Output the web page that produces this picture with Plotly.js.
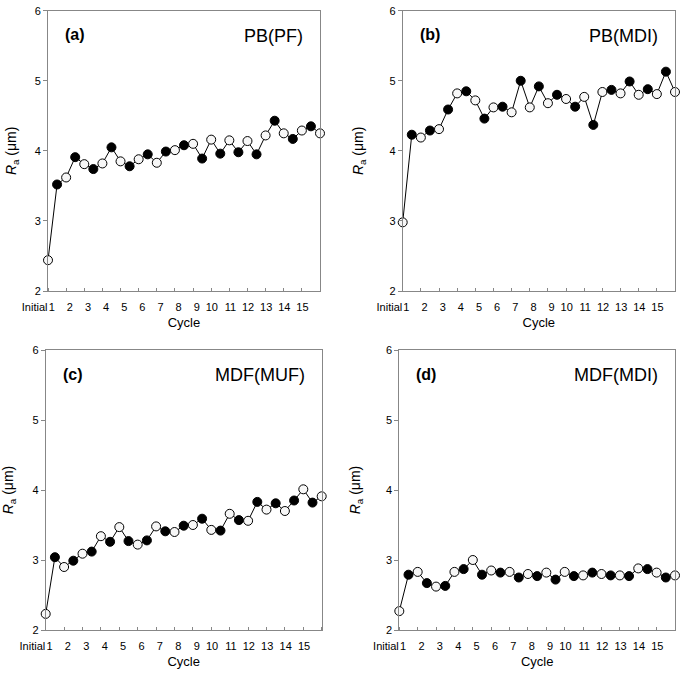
<!DOCTYPE html>
<html>
<head>
<meta charset="utf-8">
<script src="https://cdn.plot.ly/plotly-3.0.1.min.js"></script>
<style>html,body{margin:0;padding:0;background:#fff;}#chart{width:685px;height:674px;}</style>
</head>
<body>
<div id="chart"></div>
<script>
// Measurement sequence: Initial, then each cycle has two measurements (filled, open)
const tickLabels = ['Initial','1','2','3','4','5','6','7','8','9','10','11','12','13','14','15'];
const panelLetters = ['(a)','(b)','(c)','(d)'];
const panelNames = ['PB(PF)','PB(MDI)','MDF(MUF)','MDF(MDI)'];

const raPB_PF  = [2.44,3.52,3.62,3.91,3.81,3.74,3.82,4.05,3.85,3.78,3.88,3.95,3.83,3.99,4.01,4.08,4.10,3.89,4.16,3.96,4.15,3.98,4.14,3.95,4.22,4.43,4.25,4.17,4.29,4.35,4.25];
const raPB_MDI = [2.98,4.23,4.19,4.29,4.31,4.59,4.82,4.85,4.72,4.46,4.62,4.63,4.55,5.00,4.62,4.92,4.68,4.80,4.74,4.63,4.77,4.37,4.84,4.87,4.82,4.99,4.80,4.88,4.81,5.13,4.84];
const raMDF_MUF= [2.23,3.04,2.90,2.99,3.09,3.12,3.34,3.26,3.47,3.27,3.22,3.28,3.48,3.41,3.40,3.49,3.50,3.59,3.43,3.42,3.66,3.57,3.56,3.83,3.72,3.81,3.70,3.85,4.01,3.82,3.91];
const raMDF_MDI= [2.27,2.79,2.83,2.67,2.62,2.63,2.83,2.87,3.00,2.79,2.85,2.82,2.83,2.75,2.80,2.77,2.82,2.72,2.83,2.77,2.78,2.82,2.80,2.78,2.78,2.77,2.88,2.87,2.82,2.75,2.78];

const series = [raPB_PF, raPB_MDI, raMDF_MUF, raMDF_MDI];

const W = 685, H = 674;
// plot rectangles in px: [left, right, top, bottom]
const rects = [[48,320,10.7,291],[402.7,675,10.7,291],[45.7,321.7,350,630],[399.3,675,350,630]];
const yTitleStandoff = [14, 22, 16, 22];

const FONT = 'Liberation Sans, Arial, sans-serif';
const AX = '#878787';

const traces = [];
const layout = {
  width: W, height: H,
  margin: {l:0,r:0,t:0,b:0},
  paper_bgcolor: '#fff', plot_bgcolor: '#fff',
  showlegend: false,
  font: {family: FONT, color: '#000', size: 11},
  annotations: []
};

series.forEach((vals, p) => {
  const n = p + 1;
  const xs = vals.map((_, i) => i / 2);
  const fills = vals.map((_, i) => (i % 2 === 1) ? '#000000' : '#f7f7f7');
  traces.push({
    x: xs, y: vals, xaxis: 'x' + n, yaxis: 'y' + n,
    type: 'scatter', mode: 'lines+markers',
    line: {color: '#000', width: 1},
    marker: {size: 9, color: fills, line: {color: '#000', width: 1}},
    cliponaxis: false, hoverinfo: 'skip'
  });
  const r = rects[p];
  const labelPos = tickLabels.map((_, i) => i === 0 ? 0 : i - 0.6);
  layout['xaxis' + n] = {
    domain: [r[0] / W, r[1] / W],
    anchor: 'y' + n,
    range: [0, 15],
    tickmode: 'array', tickvals: labelPos, ticktext: tickLabels,
    ticklabelposition: 'outside left', tickangle: 0, ticklabelstandoff: 6,
    ticks: '', showgrid: false, zeroline: false,
    showline: true, mirror: true, linecolor: AX, linewidth: 1,
    tickfont: {family: FONT, size: 11, color: '#000'},
    minor: {tickmode: 'linear', tick0: 0, dtick: 1, ticks: 'inside', ticklen: 3, tickcolor: AX, showgrid: false},
    title: {text: 'Cycle', font: {family: FONT, size: 13, color: '#000'}, standoff: 5},
    fixedrange: true
  };
  layout['yaxis' + n] = {
    domain: [1 - r[3] / H, 1 - r[2] / H],
    anchor: 'x' + n,
    range: [2, 6], tickmode: 'linear', tick0: 2, dtick: 1,
    ticks: 'outside', ticklen: 4, tickcolor: AX,
    showgrid: false, zeroline: false,
    showline: true, mirror: true, linecolor: AX, linewidth: 1,
    tickfont: {family: FONT, size: 11, color: '#000'},
    title: {text: '<i>R</i><sub>a</sub> (μm)', font: {family: FONT, size: 14, color: '#000'}, standoff: yTitleStandoff[p]},
    fixedrange: true
  };
  layout.annotations.push({
    xref: 'x' + n + ' domain', yref: 'y' + n + ' domain',
    x: 0, y: 1, xanchor: 'left', yanchor: 'middle',
    xshift: 15, yshift: -24, showarrow: false,
    text: '<b>' + panelLetters[p] + '</b>',
    font: {family: FONT, size: 16, color: '#000'}
  });
  layout.annotations.push({
    xref: 'x' + n + ' domain', yref: 'y' + n + ' domain',
    x: 1, y: 1, xanchor: 'right', yanchor: 'middle',
    xshift: -15, yshift: -25, showarrow: false,
    text: panelNames[p],
    font: {family: FONT, size: 18, color: '#000'}
  });
});

Plotly.newPlot('chart', traces, layout, {staticPlot: true, displayModeBar: false});
</script>
</body>
</html>
